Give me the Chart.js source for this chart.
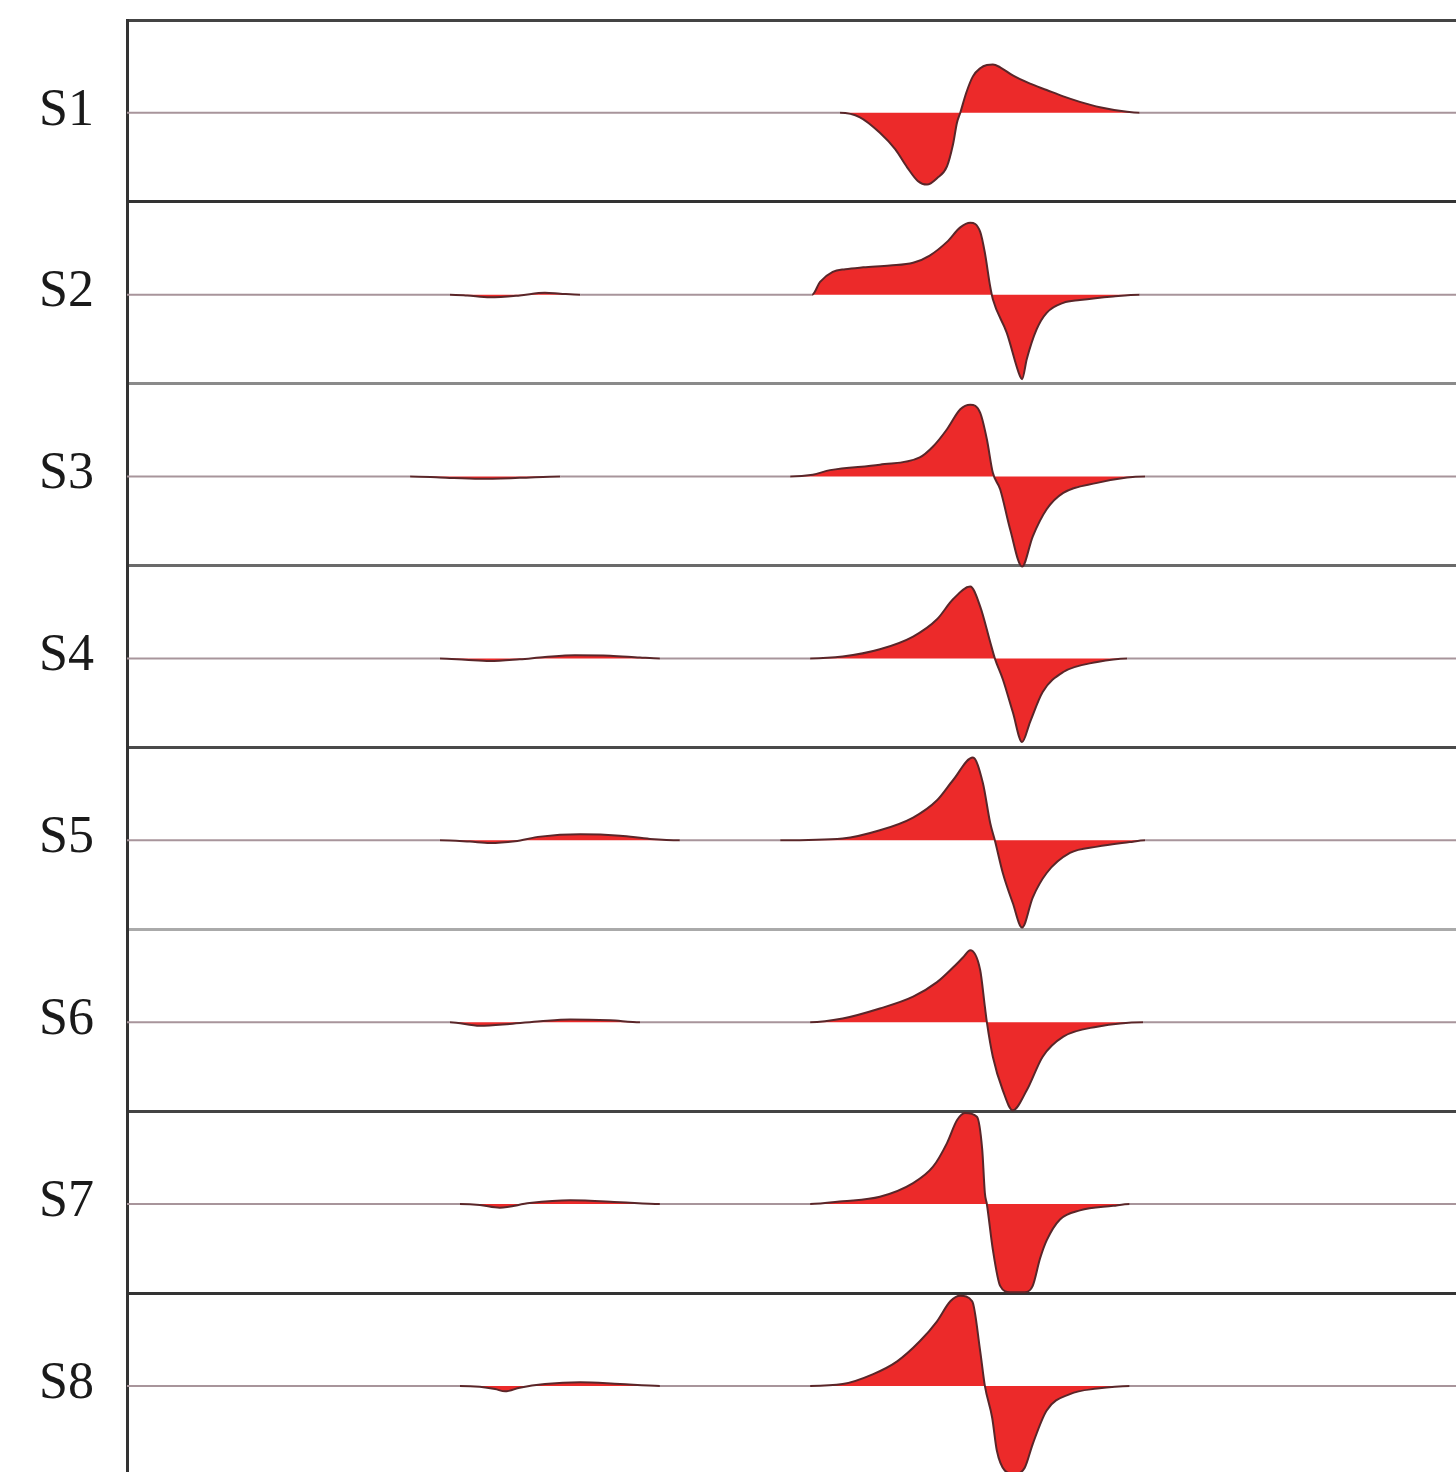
<!DOCTYPE html>
<html>
<head>
<meta charset="utf-8">
<script src="https://cdn.jsdelivr.net/npm/chart.js@4.4.0/dist/chart.umd.min.js"></script>
<style>
html, body { margin: 0; padding: 0; background: #fff; overflow: hidden; }
#wrap { width: 1456px; height: 1472px; overflow: hidden; }
</style>
</head>
<body>
<div id="wrap"><canvas id="traces" width="1456" height="1490"></canvas></div>
<script>
// trace names, top to bottom
var traceLabels = ['S1', 'S2', 'S3', 'S4', 'S5', 'S6', 'S7', 'S8'];

// time axis of each trace and its amplitude (1 = half a panel)
var s1Time = [0, 107.3, 110.3, 113.3, 115.6, 117.4, 119.0, 120.4, 121.9, 123.4, 124.3, 124.9, 125.4, 126.3, 127.3, 128.4, 129.4, 130.3, 131.4, 133.3, 135.9, 138.4, 140.9, 143.4, 146.4, 150.5, 152.4, 200];
var s1Amp = [0, 0, -0.05, -0.22, -0.4, -0.6, -0.75, -0.79, -0.72, -0.59, -0.35, -0.11, 0, 0.22, 0.4, 0.49, 0.525, 0.53, 0.5, 0.41, 0.32, 0.25, 0.18, 0.12, 0.06, 0.01, 0, 0];

var s2Time = [0, 48.6, 51.2, 54.6, 59.1, 62.9, 65.2, 68.2, 103.1, 104.3, 106.2, 108.1, 110.8, 114.8, 118.3, 120.8, 123.4, 125.4, 126.9, 128.4, 129.1, 129.9, 130.3, 132.4, 134.4, 134.7, 135.4, 136.9, 138.4, 140.9, 143.4, 148.4, 152.4, 200];
var s2Amp = [0, 0, -0.01, -0.03, -0.01, 0.02, 0.01, 0, 0, 0.14, 0.25, 0.28, 0.3, 0.32, 0.35, 0.43, 0.58, 0.74, 0.79, 0.69, 0.46, 0.09, -0.05, -0.42, -0.9, -0.93, -0.71, -0.38, -0.2, -0.09, -0.06, -0.02, 0, 0];

var s3Time = [0, 42.6, 47.1, 53.1, 59.1, 65.2, 99.8, 103.2, 105.8, 113.3, 119.3, 121.3, 123.4, 125.4, 126.9, 128.4, 129.4, 130.3, 131.4, 132.9, 134.7, 136.3, 138.4, 140.9, 146.0, 150.5, 153.2, 200];
var s3Amp = [0, 0, -0.01, -0.025, -0.015, 0, 0, 0.02, 0.07, 0.13, 0.21, 0.33, 0.52, 0.74, 0.79, 0.7, 0.41, 0.04, -0.14, -0.58, -0.99, -0.66, -0.36, -0.18, -0.07, -0.01, 0, 0];

var s4Time = [0, 47.1, 50.9, 54.6, 59.1, 62.9, 67.4, 72.7, 77.2, 80.2, 102.8, 107.7, 113.3, 118.3, 121.9, 124.3, 126.9, 128.4, 129.9, 130.6, 131.8, 133.3, 134.7, 135.9, 137.8, 140.9, 146.0, 150.5, 200];
var s4Amp = [0, 0, -0.015, -0.03, -0.01, 0.015, 0.035, 0.03, 0.01, 0, 0, 0.02, 0.1, 0.24, 0.43, 0.65, 0.79, 0.57, 0.18, 0, -0.23, -0.59, -0.92, -0.7, -0.37, -0.15, -0.04, 0, 0];

var s5Time = [0, 47.1, 51.6, 54.6, 58.4, 62.2, 68.2, 74.2, 78.7, 83.2, 98.3, 107.7, 113.3, 118.3, 121.9, 124.3, 127.3, 128.8, 129.9, 130.6, 131.8, 133.3, 134.7, 136.3, 138.4, 141.9, 146.0, 150.9, 153.2, 200];
var s5Amp = [0, 0, -0.015, -0.03, -0.01, 0.04, 0.065, 0.05, 0.015, 0, 0, 0.02, 0.11, 0.25, 0.44, 0.66, 0.91, 0.63, 0.19, 0, -0.36, -0.69, -0.96, -0.63, -0.36, -0.14, -0.07, -0.02, 0, 0];

var s6Time = [0, 48.6, 53.1, 57.6, 62.2, 66.7, 72.7, 77.2, 102.8, 107.7, 113.3, 118.3, 121.9, 124.3, 125.8, 126.9, 128.4, 129.1, 129.4, 130.3, 131.8, 133.3, 135.4, 137.8, 140.9, 146.0, 152.9, 200];
var s6Amp = [0, 0, -0.04, -0.02, 0.01, 0.03, 0.02, 0, 0, 0.04, 0.15, 0.28, 0.44, 0.6, 0.71, 0.79, 0.57, 0.17, 0, -0.38, -0.75, -0.97, -0.75, -0.38, -0.16, -0.05, 0, 0];

var s7Time = [0, 50.1, 53.1, 56.1, 60.6, 66.7, 74.2, 80.2, 102.8, 107.7, 113.3, 118.3, 121.3, 123.4, 124.9, 126.1, 127.9, 128.7, 129.1, 129.4, 130.3, 131.4, 132.9, 135.1, 136.3, 137.4, 138.4, 140.4, 143.4, 148.4, 150.9, 200];
var s7Amp = [0, 0, -0.01, -0.04, 0.01, 0.04, 0.02, 0, 0, 0.03, 0.08, 0.23, 0.41, 0.67, 0.92, 1.0, 0.96, 0.6, 0.12, 0, -0.5, -0.9, -0.97, -0.97, -0.9, -0.6, -0.4, -0.17, -0.07, -0.02, 0, 0];

var s8Time = [0, 50.1, 53.1, 55.4, 56.9, 59.1, 62.9, 68.2, 74.2, 80.2, 102.8, 107.7, 112.3, 115.9, 119.3, 121.9, 123.9, 125.4, 127.2, 128.4, 129.1, 130.2, 130.9, 132.1, 133.6, 135.1, 136.3, 138.4, 141.9, 146.0, 150.9, 200];
var s8Amp = [0, 0, -0.01, -0.035, -0.06, -0.02, 0.02, 0.04, 0.02, 0, 0, 0.02, 0.13, 0.27, 0.49, 0.71, 0.93, 0.99, 0.93, 0.38, 0, -0.35, -0.71, -0.93, -0.97, -0.9, -0.64, -0.27, -0.09, -0.03, 0, 0];

var traceTimes = [s1Time, s2Time, s3Time, s4Time, s5Time, s6Time, s7Time, s8Time];
var traceAmps = [s1Amp, s2Amp, s3Amp, s4Amp, s5Amp, s6Amp, s7Amp, s8Amp];

var gain = 0.5;
var baseShift = 0.51; // zero line sits a touch below the panel centre
var boundaryColors = ['#444444', '#333333', '#8a8a8a', '#6a6a6a', '#4a4a4a', '#aaaaaa', '#444444', '#333333', '#444444'];

var datasets = traceLabels.map(function (label, i) {
    var base = i + baseShift;
    return {
        label: label,
        data: traceTimes[i].map(function (t, j) {
            return { x: t, y: base - traceAmps[i][j] * gain };
        }),
        borderColor: '#5a2629',
        borderWidth: 2,
        backgroundColor: '#ec2a2a',
        fill: { value: base },
        pointRadius: 0,
        cubicInterpolationMode: 'monotone',
        segment: {
            // flat stretches look lighter in the figure
            borderColor: function (ctx) {
                return (ctx.p0.parsed.y === base && ctx.p1.parsed.y === base) ? '#a8959b' : undefined;
            }
        }
    };
});

var chart = new Chart(document.getElementById('traces').getContext('2d'), {
    type: 'line',
    data: { datasets: datasets },
    options: {
        responsive: false,
        animation: false,
        devicePixelRatio: 1,
        layout: { padding: { top: 20, bottom: 15, left: 0, right: 0 } },
        plugins: {
            legend: { display: false },
            tooltip: { enabled: false }
        },
        scales: {
            x: {
                type: 'linear',
                min: 0,
                max: 200,
                display: false
            },
            y: {
                type: 'linear',
                min: 0,
                max: 8,
                reverse: true,
                afterBuildTicks: function (scale) {
                    var ticks = [];
                    for (var v = 0; v <= 16; v++) ticks.push({ value: v / 2 });
                    scale.ticks = ticks;
                },
                afterFit: function (scale) {
                    scale.width = 127;
                    scale.paddingTop = 0;
                    scale.paddingBottom = 0;
                },
                ticks: {
                    autoSkip: false,
                    padding: 33,
                    color: '#1a1a1a',
                    font: { family: "'Liberation Serif', 'Times New Roman', serif", size: 52 },
                    callback: function (value) {
                        var k = value - 0.5;
                        return Number.isInteger(k) ? traceLabels[k] : '';
                    }
                },
                grid: {
                    drawTicks: false,
                    color: function (ctx) {
                        var v = ctx.tick ? ctx.tick.value : 0.5;
                        return Number.isInteger(v) ? boundaryColors[v] : 'rgba(0,0,0,0)';
                    },
                    lineWidth: function (ctx) {
                        var v = ctx.tick ? ctx.tick.value : 0.5;
                        return Number.isInteger(v) ? 3 : 0;
                    }
                },
                border: { display: true, color: '#333333', width: 3 }
            }
        }
    }
});
</script>
</body>
</html>
